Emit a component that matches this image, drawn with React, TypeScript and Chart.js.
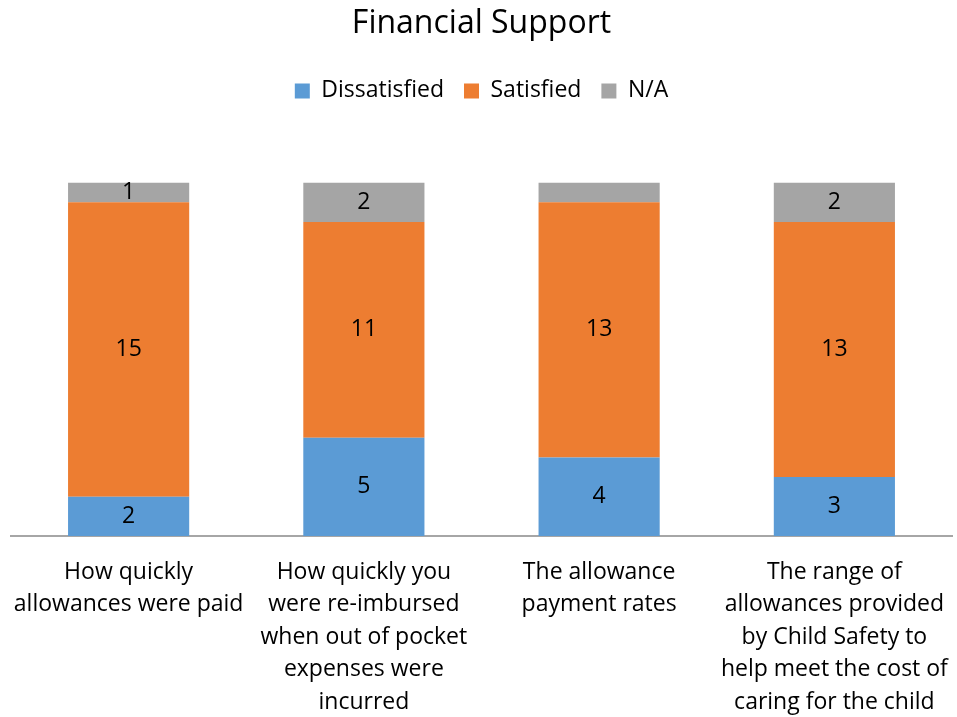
import React, { useEffect, useRef } from "react";
import { Chart, registerables } from "chart.js";

Chart.register(...registerables);

const categories: string[][] = [
  ["How quickly", "allowances were paid"],
  ["How quickly you", "were re-imbursed", "when out of pocket", "expenses were", "incurred"],
  ["The allowance", "payment rates"],
  ["The range of", "allowances provided", "by Child Safety to", "help meet the cost of", "caring for the child"],
];
const dissatisfied = [2, 5, 4, 3];
const satisfied = [15, 11, 13, 13];
const na = [1, 2, 1, 2];
const naShown = [true, true, false, true];

const FONT = "'Open Sans', sans-serif";

const valueLabels = {
  id: "valueLabels",
  afterDatasetsDraw(chart: any) {
    const ctx = chart.ctx;
    ctx.save();
    ctx.fillStyle = "#000";
    ctx.font = `23px ${FONT}`;
    ctx.textAlign = "center";
    ctx.textBaseline = "middle";
    chart.data.datasets.forEach((ds: any, di: number) => {
      const meta = chart.getDatasetMeta(di);
      meta.data.forEach((bar: any, i: number) => {
        if (di === 2 && !naShown[i]) return;
        const y = (bar.y + bar.base) / 2;
        ctx.fillText(String(ds.data[i]), bar.x, y);
      });
    });
    ctx.restore();
  },
};

const legendSpacing = {
  id: "legendSpacing",
  beforeInit(chart: any) {
    const orig = chart.legend.fit;
    chart.legend.fit = function () {
      orig.call(this);
      this.height += 31;
    };
  },
};

export default function App() {
  const ref = useRef<HTMLCanvasElement>(null);
  useEffect(() => {
    const chart = new Chart(ref.current!, {
      type: "bar",
      data: {
        labels: categories,
        datasets: [
          { label: "Dissatisfied", data: dissatisfied, backgroundColor: "#5B9BD5" },
          { label: "Satisfied", data: satisfied, backgroundColor: "#ED7D31" },
          { label: "N/A", data: na, backgroundColor: "#A5A5A5" },
        ],
      },
      options: {
        animation: false,
        responsive: false,
        layout: { padding: { left: 11, right: 5, top: 0, bottom: 0 } },
        datasets: { bar: { categoryPercentage: 1, barPercentage: 0.515 } },
        plugins: {
          title: {
            display: true,
            text: "Financial Support",
            color: "#000",
            font: { family: FONT, size: 32, weight: "normal" },
            padding: { top: 5, bottom: 16 },
          },
          legend: {
            labels: {
              color: "#000",
              font: { family: FONT, size: 23 },
              boxWidth: 15,
              boxHeight: 15,
              padding: 20,
            },
          },
          tooltip: { enabled: false },
        },
        scales: {
          x: {
            stacked: true,
            grid: { display: false },
            border: { display: true, color: "#A6A6A6", width: 2 },
            afterFit: (scale: any) => {
              scale.height = 181;
              scale.paddingLeft = 0;
              scale.paddingRight = 0;
            },
            ticks: {
              color: "#000",
              font: { family: FONT, size: 23, lineHeight: 1.413 },
              maxRotation: 0,
              autoSkip: false,
              padding: 12,
            },
          },
          y: { stacked: true, display: false, min: 0, max: 20 },
        },
      },
      plugins: [valueLabels, legendSpacing],
    });
    return () => chart.destroy();
  }, []);
  return (
    <div style={{ position: "fixed", left: 0, top: 0, width: 957, height: 717, background: "#fff" }}>
      <canvas ref={ref} width={957} height={717} style={{ width: 957, height: 717 }} />
    </div>
  );
}
